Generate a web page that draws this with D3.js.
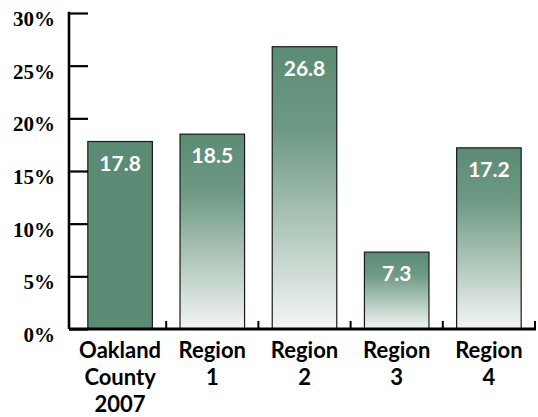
<!DOCTYPE html>
<html>
<head>
<meta charset="utf-8">
<script src="https://cdn.jsdelivr.net/npm/d3@7"></script>
<style>
  body { margin: 0; background: #fff; }
</style>
</head>
<body>
<div id="chart"></div>
<script>
// data
let categories = ["Oakland County 2007", "Region 1", "Region 2", "Region 3", "Region 4"];
let labelLines = [["Oakland", "County", "2007"], ["Region", "1"], ["Region", "2"], ["Region", "3"], ["Region", "4"]];
let values = [17.8, 18.5, 26.8, 7.3, 17.2];
let yTicks = [0, 5, 10, 15, 20, 25, 30];

let svgWidth = 538;
let svgHeight = 417;
let padLeft = 69, padRight = 535, padTop = 13, padBottom = 329;

let green = "#5b8b74";

let xScale = d3.scaleBand().domain(categories).range([74, padRight]).padding(0)
let yScale = d3.scaleLinear().domain([0, 30]).range([padBottom, padTop])

let svg = d3.select("#chart")
  .append("svg")
  .attr("width", svgWidth)
  .attr("height", svgHeight)

//gradient for the region bars, per bar box
let grad = svg.append("defs").append("linearGradient")
  .attr("id", "fade")
  .attr("x1", 0).attr("y1", 0).attr("x2", 0).attr("y2", 1)
grad.append("stop").attr("offset", "0%").attr("stop-color", green)
grad.append("stop").attr("offset", "30%").attr("stop-color", "#6f9a85")
grad.append("stop").attr("offset", "100%").attr("stop-color", "#f4f6f4")

let barW = xScale.bandwidth() * 0.7;

svg.selectAll("rect.bar")
  .data(values)
  .enter()
  .append("rect")
  .attr("class", "bar")
  .attr("x", (d, i) => xScale(categories[i]) + (xScale.bandwidth() - barW) / 2)
  .attr("width", barW)
  .attr("y", d => yScale(d))
  .attr("height", d => padBottom - yScale(d))
  .attr("fill", (d, i) => i == 0 ? green : "url(#fade)")
  .attr("stroke", "#1a1a1a")
  .attr("stroke-width", 1.2)

//value labels
svg.selectAll("text.val")
  .data(values)
  .enter()
  .append("text")
  .attr("class", "val")
  .attr("x", (d, i) => xScale(categories[i]) + xScale.bandwidth() / 2)
  .attr("y", d => yScale(d) + 29)
  .attr("text-anchor", "middle")
  .attr("fill", "#fff")
  .style("font-family", "Lato, 'Open Sans', sans-serif")
  .style("font-weight", "bold")
  .style("font-size", "21px")
  .text(d => d.toFixed(1))

//y axis with inward ticks
let yAxis = d3.axisLeft(yScale)
  .tickValues(yTicks)
  .tickFormat(d => d + "%")
  .tickSizeInner(-19)
  .tickSizeOuter(0)
  .tickPadding(14)

let gy = svg.append("g")
  .attr("transform", `translate(${padLeft},0)`)
  .call(yAxis)
gy.select(".domain").attr("stroke", "#000").attr("stroke-width", 2.6)
  .attr("d", `M0,${padTop - 1.3}V${padBottom}`)
gy.selectAll(".tick line").attr("stroke", "#000").attr("stroke-width", 2.2)
gy.selectAll(".tick text")
  .attr("dy", "0.6em")
  .attr("fill", "#000")
  .style("font-family", "'Liberation Serif', 'DejaVu Serif', serif")
  .style("font-weight", "bold")
  .style("font-size", "21px")

//x axis: baseline, small boundary ticks, multi-line labels
let xAxis = d3.axisBottom(xScale).tickSize(0).tickPadding(0)
let gx = svg.append("g")
  .attr("transform", `translate(0,${padBottom})`)
  .call(xAxis)
gx.select(".domain").attr("stroke", "#000").attr("stroke-width", 2.8)
  .attr("d", `M${padLeft},0H${padRight + 1}`)
gx.selectAll(".tick text").remove()
gx.selectAll(".tick")
  .append("text")
  .attr("text-anchor", "middle")
  .attr("fill", "#000")
  .style("font-family", "Lato, 'Open Sans', sans-serif")
  .style("font-weight", "bold")
  .style("font-size", "22px")
  .selectAll("tspan")
  .data((d, i) => labelLines[i])
  .enter()
  .append("tspan")
  .attr("x", 0)
  .attr("y", (d, j) => 29 + j * 27)
  .text(d => d)

svg.selectAll("line.sep")
  .data(categories)
  .enter()
  .append("line")
  .attr("class", "sep")
  .attr("x1", d => xScale(d) + xScale.bandwidth())
  .attr("x2", d => xScale(d) + xScale.bandwidth())
  .attr("y1", padBottom)
  .attr("y2", padBottom - 8)
  .attr("stroke", "#000")
  .attr("stroke-width", 2)
</script>
</body>
</html>
